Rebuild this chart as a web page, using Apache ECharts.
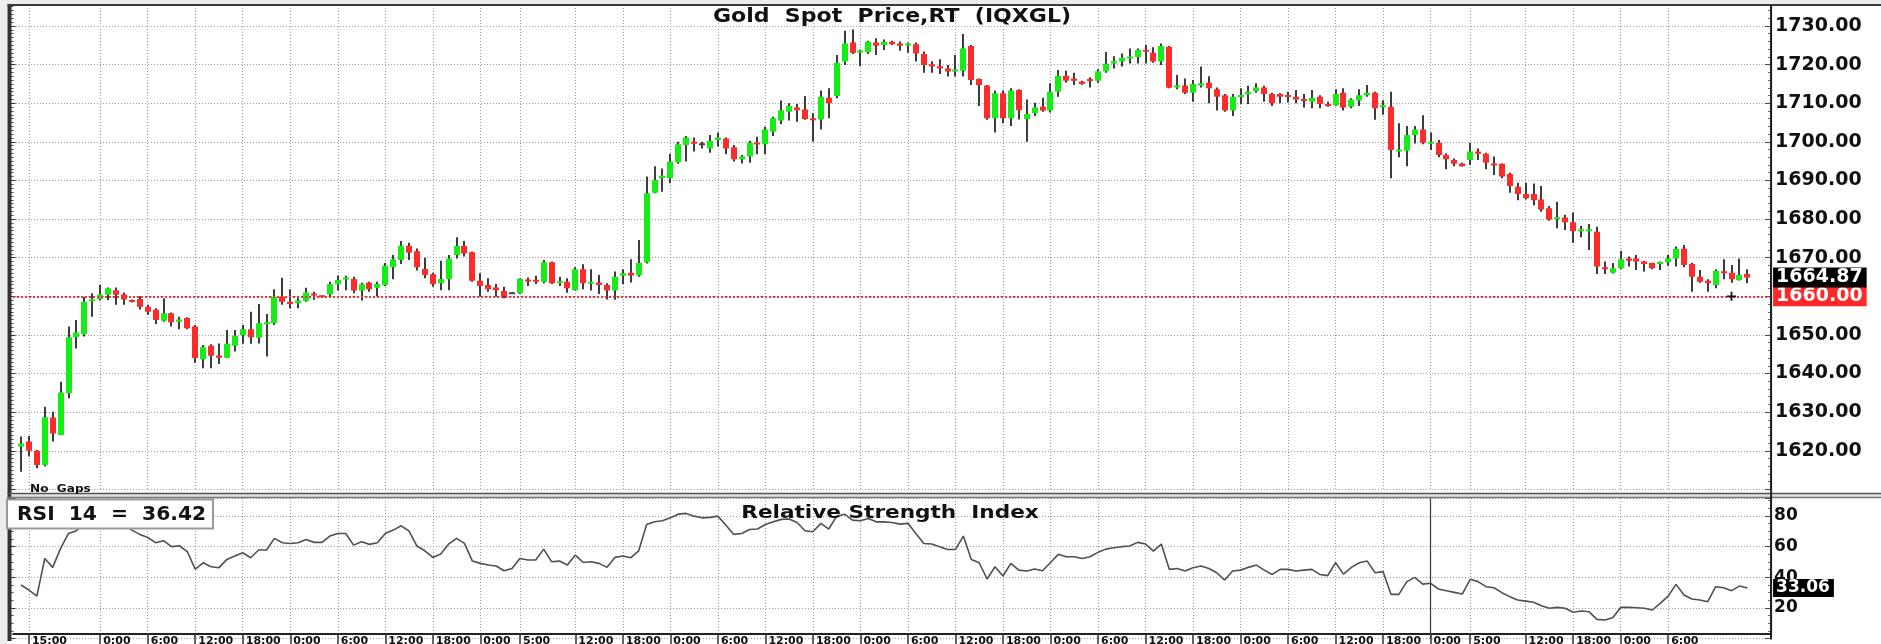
<!DOCTYPE html>
<html><head><meta charset="utf-8">
<script src="https://cdn.jsdelivr.net/npm/echarts@6/dist/echarts.min.js"></script>
<style>html,body{margin:0;padding:0;background:#fff;overflow:hidden}#c{width:1881px;height:644px}</style>
</head><body><div id="c"></div>
<script>
// ---- data (hourly candles, index 0..218) ----
const opens = [1621.1,1622.4,1620.0,1616.3,1628.6,1624.1,1634.9,1649.4,1650.2,1658.7,1659.3,1660.4,1661.6,1660.5,1659.0,1659.3,1657.3,1656.5,1653.7,1655.6,1653.4,1654.4,1652.2,1643.7,1647.2,1644.7,1644.1,1647.2,1649.9,1651.5,1649.3,1653.0,1653.0,1659.9,1658.6,1658.2,1658.8,1660.7,1660.1,1660.5,1663.1,1664.5,1664.5,1661.5,1663.5,1662.2,1662.9,1667.5,1669.4,1673.1,1671.7,1667.1,1665.7,1663.4,1664.4,1670.7,1673.0,1671.4,1664.0,1662.9,1662.3,1661.4,1660.8,1660.8,1664.3,1664.2,1663.8,1668.8,1663.5,1663.8,1661.6,1667.0,1663.4,1663.6,1662.9,1661.5,1665.3,1666.1,1665.4,1668.8,1686.8,1690.6,1690.6,1694.7,1699.2,1700.0,1699.4,1698.3,1700.5,1700.9,1698.6,1695.5,1696.2,1699.8,1699.4,1702.6,1705.5,1707.8,1708.9,1708.4,1705.9,1705.8,1711.4,1711.9,1720.8,1725.7,1723.3,1723.2,1725.7,1725.1,1725.9,1725.5,1725.1,1725.3,1722.75,1720.1,1719.6,1719.0,1718.4,1718.4,1724.8,1716.3,1714.6,1706.1,1712.6,1706.1,1713.4,1705.9,1707.4,1709.1,1708.1,1713.0,1717.1,1716.4,1715.6,1716.3,1715.8,1718.3,1720.3,1720.8,1721.7,1722.0,1723.8,1723.1,1720.8,1724.6,1714.1,1714.6,1712.7,1714.6,1715.3,1713.6,1712.1,1708.1,1711.7,1712.3,1713.2,1714.1,1712.4,1712.4,1712.0,1711.7,1711.0,1710.4,1711.7,1709.8,1709.5,1712.7,1709.1,1710.7,1712.1,1712.7,1709.1,1709.1,1697.6,1697.7,1701.8,1703.2,1699.6,1699.8,1696.6,1695.3,1694.4,1695.3,1697.5,1696.9,1694.3,1694.3,1691.7,1688.4,1686.5,1686.5,1685.1,1682.8,1680.0,1680.4,1679.2,1677.0,1677.0,1676.7,1667.5,1666.1,1667.3,1669.8,1669.8,1669.0,1668.6,1668.4,1668.8,1669.8,1672.3,1668.4,1665.1,1664.0,1662.9,1666.4,1666.1,1664.2,1665.8];
const closes = [1621.9,1620.0,1616.3,1628.7,1624.5,1635.1,1649.4,1650.6,1658.6,1659.2,1660.5,1662.1,1660.4,1659.2,1658.6,1657.3,1656.0,1653.9,1655.6,1653.3,1654.0,1651.7,1644.0,1646.8,1644.6,1644.1,1647.7,1649.8,1651.5,1649.4,1653.0,1653.1,1659.9,1658.6,1658.0,1658.9,1661.0,1660.2,1660.0,1663.2,1664.2,1664.7,1661.5,1663.1,1661.8,1663.2,1667.9,1669.6,1673.1,1671.3,1667.5,1665.5,1663.1,1664.5,1669.8,1673.0,1671.1,1664.0,1662.7,1661.8,1661.6,1660.1,1660.8,1664.5,1663.9,1663.8,1668.8,1663.4,1663.8,1662.1,1667.0,1663.4,1663.6,1662.9,1661.5,1665.1,1666.0,1665.4,1668.6,1686.7,1690.1,1691.2,1694.9,1699.4,1701.1,1699.6,1699.4,1700.3,1701.1,1698.3,1695.5,1696.2,1699.8,1699.4,1703.2,1706.1,1708.2,1709.3,1708.2,1705.9,1705.8,1711.7,1710.0,1720.5,1725.5,1723.1,1723.5,1725.9,1724.9,1725.9,1725.3,1724.9,1725.3,1722.9,1719.9,1719.5,1719.0,1718.2,1718.6,1724.2,1716.0,1714.7,1706.1,1712.6,1706.1,1713.3,1708.2,1707.2,1708.9,1708.1,1713.0,1717.1,1715.8,1715.8,1715.0,1715.8,1718.3,1720.2,1720.9,1721.8,1722.0,1723.8,1723.4,1720.8,1724.8,1714.0,1714.6,1712.7,1715.0,1715.2,1713.9,1711.7,1708.1,1711.7,1712.1,1713.0,1714.1,1712.4,1710.0,1711.7,1711.7,1711.0,1710.7,1711.4,1709.8,1709.3,1712.4,1708.9,1711.0,1712.1,1712.7,1708.7,1709.3,1697.9,1697.9,1701.8,1703.2,1699.8,1699.9,1696.6,1695.5,1694.3,1693.7,1697.5,1696.9,1694.6,1694.0,1691.0,1688.6,1686.5,1685.4,1684.9,1682.5,1679.8,1680.4,1679.2,1676.9,1677.2,1677.2,1667.7,1667.0,1667.3,1669.6,1669.2,1669.0,1668.4,1667.3,1668.8,1669.8,1672.3,1668.1,1665.1,1663.8,1663.4,1666.6,1666.1,1664.4,1665.5,1664.87];
const highs = [1623.7,1623.8,1620.2,1631.4,1630.1,1637.9,1652.2,1653.9,1659.9,1660.8,1662.9,1662.3,1662.3,1661.0,1659.2,1660.0,1657.8,1656.9,1659.5,1655.8,1654.7,1654.6,1652.6,1647.4,1647.6,1647.8,1651.3,1651.3,1652.6,1656.0,1658.0,1655.4,1661.8,1664.8,1661.8,1659.9,1662.2,1661.2,1660.2,1663.8,1665.4,1665.3,1665.1,1663.5,1663.8,1663.8,1668.6,1670.7,1674.3,1673.9,1672.4,1670.0,1666.1,1669.2,1670.7,1675.3,1674.3,1671.6,1666.0,1664.7,1663.2,1662.5,1661.0,1664.7,1664.9,1665.3,1669.4,1669.0,1665.1,1664.7,1667.5,1668.3,1667.0,1665.5,1663.4,1666.4,1667.0,1669.6,1674.6,1691.0,1693.7,1693.1,1696.9,1700.0,1701.5,1701.1,1700.0,1701.8,1702.4,1701.1,1699.2,1696.6,1700.3,1701.3,1703.9,1706.5,1710.7,1710.0,1709.8,1711.9,1707.4,1713.3,1713.9,1722.5,1728.8,1729.1,1723.9,1726.2,1726.8,1726.5,1726.2,1726.0,1725.7,1725.7,1723.4,1720.9,1721.4,1719.9,1722.5,1727.9,1725.1,1716.4,1714.7,1713.3,1713.3,1713.9,1713.6,1711.0,1710.1,1711.4,1715.2,1718.6,1718.4,1717.9,1715.8,1716.7,1718.8,1723.3,1722.2,1722.9,1724.2,1724.2,1725.1,1724.5,1725.5,1724.8,1717.3,1716.4,1716.0,1719.5,1717.0,1714.1,1712.4,1712.4,1713.9,1714.5,1715.2,1714.5,1712.7,1712.6,1713.0,1713.4,1712.4,1713.4,1712.1,1710.4,1713.6,1713.9,1711.3,1713.6,1714.7,1713.0,1710.8,1713.0,1704.8,1704.1,1704.1,1706.9,1702.4,1700.5,1697.0,1695.7,1694.6,1699.8,1698.3,1697.2,1696.2,1694.4,1692.0,1689.4,1689.4,1689.2,1688.6,1683.4,1684.5,1681.1,1681.7,1678.2,1678.7,1678.0,1669.0,1668.6,1671.8,1670.3,1670.7,1669.2,1668.7,1669.0,1670.7,1672.9,1673.3,1668.7,1666.8,1664.4,1667.0,1669.6,1668.1,1669.8,1667.0];
const lows = [1614.6,1618.5,1615.5,1615.9,1622.4,1624.0,1633.6,1646.5,1649.6,1654.7,1658.9,1659.0,1657.8,1657.8,1658.4,1656.6,1655.2,1652.8,1653.4,1652.2,1651.5,1651.5,1642.8,1641.4,1641.4,1642.5,1644.0,1645.7,1647.7,1647.7,1647.8,1644.4,1652.6,1657.8,1656.9,1656.9,1658.6,1659.1,1659.9,1659.9,1661.5,1661.6,1660.8,1658.9,1661.2,1660.1,1662.7,1664.4,1668.4,1669.4,1666.7,1664.7,1662.5,1661.6,1661.6,1669.8,1670.3,1663.8,1659.9,1661.2,1659.9,1659.5,1660.6,1660.6,1662.7,1663.2,1663.4,1663.2,1662.7,1660.9,1661.5,1661.8,1661.5,1660.6,1659.2,1659.1,1663.2,1663.6,1665.1,1668.5,1686.7,1687.1,1689.3,1694.3,1694.9,1697.5,1698.3,1697.2,1698.8,1696.8,1694.9,1694.4,1694.6,1696.8,1696.8,1701.5,1704.6,1705.5,1705.2,1705.7,1700.0,1703.2,1706.1,1711.3,1719.9,1722.75,1719.6,1722.75,1722.5,1723.8,1725.1,1723.6,1723.1,1720.8,1717.9,1717.9,1717.6,1716.9,1716.9,1716.9,1714.7,1709.3,1705.7,1702.4,1704.8,1704.1,1705.8,1700.0,1706.7,1707.8,1707.6,1711.7,1715.3,1714.7,1714.8,1714.1,1715.3,1717.9,1719.0,1719.5,1720.3,1720.3,1720.3,1720.5,1719.9,1713.9,1713.6,1712.4,1710.4,1714.1,1710.0,1708.1,1707.8,1706.7,1709.8,1709.8,1712.7,1710.4,1709.3,1710.0,1710.2,1710.0,1708.9,1708.7,1708.7,1709.1,1709.3,1708.1,1708.7,1709.3,1711.7,1705.7,1707.0,1690.6,1696.0,1693.7,1699.6,1699.4,1697.9,1696.0,1692.9,1693.7,1693.6,1694.0,1695.3,1692.9,1691.4,1690.6,1686.8,1684.9,1685.1,1683.6,1681.9,1679.6,1677.6,1677.2,1673.9,1675.3,1672.0,1665.8,1665.8,1665.9,1667.0,1667.7,1666.8,1666.4,1667.0,1666.8,1667.9,1667.7,1667.5,1661.2,1663.5,1661.2,1662.1,1664.4,1663.5,1664.1,1663.4];
const rsi14 = [35.0,31.7,27.8,52.3,46.5,58.9,68.6,70.4,76,79,81,82,79,75,70.8,68.0,66.0,62.6,63.9,60.0,60.6,56.7,45.4,49.5,46.9,46.3,51.7,53.9,56.0,52.8,57.8,57.8,65.4,62.6,62.1,62.6,64.7,62.8,62.8,66.9,68.6,68.6,61.0,63.2,61.5,62.6,68.6,70.8,73.6,70.2,60.4,57.3,53.0,55.2,61.7,65.4,62.1,50.6,49.1,48.0,47.4,44.3,45.8,52.3,51.3,51.3,58.4,50.2,50.6,48.0,54.5,49.7,50.2,49.1,46.5,53.0,53.9,52.8,57.3,74.5,76.2,76.9,78.8,81.2,81.7,79.9,78.8,79.1,79.9,74.1,68.0,68.6,71.2,71.5,74.5,76.2,77.8,78.0,75.8,70.4,69.7,75.2,71.5,79.9,81.2,77.3,76.9,78.4,76.2,76.2,75.8,74.7,75.2,68.6,62.1,61.7,60.0,58.2,58.2,66.9,51.7,49.5,38.9,46.9,40.9,49.1,44.7,44.1,45.4,44.3,49.7,55.0,53.4,53.4,52.3,53.4,56.3,58.4,59.3,60.0,60.4,62.8,61.7,57.1,61.7,45.2,45.8,44.1,46.3,47.4,45.8,43.0,38.2,44.1,44.7,46.5,48.0,44.7,41.9,45.2,45.2,44.1,44.7,45.2,41.9,41.1,49.5,42.1,46.5,49.5,50.6,43.0,43.7,28.9,28.9,37.2,40.0,35.6,36.1,32.4,31.3,30.2,29.1,38.7,37.2,33.9,33.2,30.0,27.4,25.2,24.5,23.7,21.5,19.8,20.4,19.8,17.2,18.0,17.6,12.6,12.2,13.7,20.4,20.4,20.2,19.8,18.7,23.0,27.8,35.4,28.5,25.9,25.2,24.1,33.9,33.2,31.3,34.3,33.1];
const tickLabels = [[1,'15:00'],[10,'0:00'],[16,'6:00'],[22,'12:00'],[28,'18:00'],[34,'0:00'],[40,'6:00'],[46,'12:00'],[52,'18:00'],[58,'0:00'],[63,'5:00'],[70,'12:00'],[76,'18:00'],[82,'0:00'],[88,'6:00'],[94,'12:00'],[100,'18:00'],[106,'0:00'],[112,'6:00'],[118,'12:00'],[124,'18:00'],[130,'0:00'],[136,'6:00'],[142,'12:00'],[148,'18:00'],[154,'0:00'],[160,'6:00'],[166,'12:00'],[172,'18:00'],[178,'0:00'],[183,'5:00'],[190,'12:00'],[196,'18:00'],[202,'0:00'],[208,'6:00']];
const priceTicks = [1620,1630,1640,1650,1660,1670,1680,1690,1700,1710,1720,1730];
const rsiTicks = [20,40,60,80];
const lastPrice = 1664.87;
const refLevel = 1660.00;
const rsiLast = 33.06;
const rsiHeader = 36.42;
const cursorCandle = 178;
const markCandle = 216;

// ---- build ----
const LEAD = 1, TRAIL = 3;
const nCat = LEAD + opens.length + TRAIL;
const categories = Array.from({length: nCat}, (_, k) => String(k));
const labelMap = {};
tickLabels.forEach(([i, t]) => { labelMap[i + LEAD] = t; });
const isTick = (idx) => labelMap[idx] !== undefined;
const candleData = opens.map((o, i) => [i + LEAD, o, closes[i], lows[i], highs[i]]);
const rsiData = rsi14.map((v, i) => [i + LEAD, v]);

const FONT = '"DejaVu Sans", "Liberation Sans", sans-serif';
const dotted = {color: '#9a9a9a', width: 1, type: [1, 2]};
const GL = 13.1, GW = 1758;

function renderCandle(params, api) {
  const cat = api.value(0);
  const o = api.value(1), c = api.value(2), l = api.value(3), h = api.value(4);
  const pO = api.coord([cat, o]), pC = api.coord([cat, c]);
  const pH = api.coord([cat, h]), pL = api.coord([cat, l]);
  const x = Math.round(pO[0]);
  const bw = 6;
  let top = Math.min(pO[1], pC[1]), bot = Math.max(pO[1], pC[1]);
  if (bot - top < 2) { const m = (top + bot) / 2; top = m - 1; bot = m + 1; }
  const fill = c > o ? '#14ee14' : (c < o ? '#ff2a2a' : '#444444');
  return {type: 'group', children: [
    {type: 'line', shape: {x1: x, y1: pH[1], x2: x, y2: pL[1]}, style: {stroke: '#3c3c3c', lineWidth: 2}},
    {type: 'rect', shape: {x: x - bw / 2, y: top, width: bw, height: bot - top}, style: {fill: fill}}
  ]};
}

const boxLabel = (bg, txt, size) => ({
  show: true, position: 'end', distance: 2, formatter: txt,
  backgroundColor: bg, color: '#ffffff', fontFamily: FONT, fontWeight: 'bold',
  fontSize: size, lineHeight: size, padding: [1, 4, 0, 3]
});
const hiddenLine = {color: 'rgba(0,0,0,0)', width: 0.01, type: 'solid'};

const chart = echarts.init(document.getElementById('c'), null, {renderer: 'canvas'});
chart.setOption({
  animation: false,
  backgroundColor: '#ffffff',
  textStyle: {fontFamily: FONT},
  grid: [
    {left: GL, top: 5, width: GW, height: 484.4, outerBoundsMode: 'none', containLabel: false},
    {left: GL, top: 498, width: GW, height: 140.67, outerBoundsMode: 'none', containLabel: false}
  ],
  xAxis: [
    {type: 'category', gridIndex: 0, data: categories, boundaryGap: false,
     axisLine: {show: false}, axisTick: {show: false}, axisLabel: {show: false},
     splitLine: {show: true, interval: (i) => isTick(i), lineStyle: dotted}},
    {type: 'category', gridIndex: 1, data: categories, boundaryGap: false, offset: -4.67,
     axisLine: {show: true, lineStyle: {color: '#222', width: 2}},
     axisTick: {show: true, interval: (i) => isTick(i), length: 10, lineStyle: {color: '#333', width: 1.5}},
     axisLabel: {show: true, interval: (i) => isTick(i), formatter: (v, i) => labelMap[i] || '',
                 align: 'left', margin: 2, padding: [0, 0, 0, 3], color: '#111',
                 fontFamily: FONT, fontWeight: 'bold', fontSize: 11},
     splitLine: {show: true, interval: (i) => isTick(i), lineStyle: dotted}}
  ],
  yAxis: [
    {type: 'value', gridIndex: 0, position: 'right', min: 1610, max: 1735.44, interval: 10,
     axisLine: {show: true, lineStyle: {color: '#222', width: 2}},
     axisTick: {show: true, inside: true, length: 6, lineStyle: {color: '#444'}},
     minorTick: {show: true, splitNumber: 5, length: 3, lineStyle: {color: '#666'}},
     axisLabel: {show: true, showMinLabel: false, showMaxLabel: false, margin: 4,
                 formatter: (v) => priceTicks.includes(Math.round(v)) ? v.toFixed(2) : '',
                 color: '#111', fontFamily: FONT, fontWeight: 'bold', fontSize: 19},
     splitLine: {show: true, lineStyle: dotted}},
    {type: 'value', gridIndex: 0, position: 'left', offset: 3.5, min: 1610, max: 1735.44, interval: 10,
     axisLine: {show: false}, axisLabel: {show: false}, splitLine: {show: false},
     axisTick: {show: true, inside: true, length: 6, lineStyle: {color: '#333'}},
     minorTick: {show: true, splitNumber: 10, length: 4, lineStyle: {color: '#555'}}},
    {type: 'value', gridIndex: 1, position: 'right', min: 0, max: 91.74, interval: 20,
     axisLine: {show: true, lineStyle: {color: '#222', width: 2}},
     axisTick: {show: true, inside: true, length: 6, lineStyle: {color: '#444'}},
     minorTick: {show: true, splitNumber: 4, length: 3, lineStyle: {color: '#666'}},
     axisLabel: {show: true, showMinLabel: false, showMaxLabel: false, margin: 3,
                 formatter: (v) => rsiTicks.includes(Math.round(v)) ? String(Math.round(v)) : '',
                 color: '#111', fontFamily: FONT, fontWeight: 'bold', fontSize: 17},
     splitLine: {show: true, lineStyle: dotted}},
    {type: 'value', gridIndex: 1, position: 'left', offset: 3.5, min: 0, max: 91.74, interval: 20,
     axisLine: {show: false}, axisLabel: {show: false}, splitLine: {show: false},
     axisTick: {show: true, inside: true, length: 6, lineStyle: {color: '#333'}},
     minorTick: {show: true, splitNumber: 4, length: 4, lineStyle: {color: '#555'}}}
  ],
  series: [
    {type: 'custom', name: 'Gold', xAxisIndex: 0, yAxisIndex: 0, data: candleData,
     encode: {x: 0, y: [1, 2, 3, 4]}, renderItem: renderCandle, clip: true, z: 3,
     markLine: {silent: true, symbol: ['none', 'none'], animation: false,
       data: [
         {yAxis: refLevel, lineStyle: {color: '#e0343a', width: 2, type: [2, 2]}, label: boxLabel('#ff2727', refLevel.toFixed(2), 19)},
         {yAxis: lastPrice, lineStyle: hiddenLine, label: boxLabel('#000000', lastPrice.toFixed(2), 19)}
       ]},
     markPoint: {silent: true, animation: false, symbol: 'path://M4,0H6V4H10V6H6V10H4V6H0V4H4Z', symbolSize: 9,
       itemStyle: {color: '#111'}, label: {show: false},
       data: [{coord: [markCandle + LEAD, refLevel]}]}},
    {type: 'line', name: 'RSI', xAxisIndex: 1, yAxisIndex: 2, data: rsiData, symbol: 'none',
     lineStyle: {color: '#505050', width: 1.6}, z: 3,
     markLine: {silent: true, symbol: ['none', 'none'], animation: false,
       data: [
         {xAxis: cursorCandle + LEAD, lineStyle: {color: '#3a3a3a', width: 1.2, type: 'solid'}, label: {show: false}},
         {yAxis: rsiLast, lineStyle: hiddenLine, label: boxLabel('#000000', rsiLast.toFixed(2), 17)}
       ]}}
  ],
  graphic: [
    {type: 'rect', silent: true, z: 40, shape: {x: 0, y: 0, width: 1881, height: 4}, style: {fill: '#ececec'}},
    {type: 'rect', silent: true, z: 40, shape: {x: 0, y: 0, width: 7.5, height: 644}, style: {fill: '#ececec'}},
    {type: 'rect', silent: true, z: 41, shape: {x: 7.5, y: 4, width: 4, height: 637}, style: {fill: '#333333'}},
    {type: 'line', silent: true, z: 41, shape: {x1: 7.5, y1: 5, x2: 1881, y2: 5}, style: {stroke: '#3a3a3a', lineWidth: 2}},
    {type: 'rect', silent: true, z: 41, shape: {x: 11.5, y: 493, width: 1870, height: 5}, style: {fill: '#e2e2e2'}},
    {type: 'line', silent: true, z: 42, shape: {x1: 7.5, y1: 493.5, x2: 1881, y2: 493.5}, style: {stroke: '#555', lineWidth: 1.5}},
    {type: 'line', silent: true, z: 42, shape: {x1: 7.5, y1: 497.5, x2: 1881, y2: 497.5}, style: {stroke: '#777', lineWidth: 1.5}},
    {type: 'line', silent: true, z: 42, shape: {x1: 1771.1, y1: 5, x2: 1771.1, y2: 634}, style: {stroke: '#222', lineWidth: 2}},
    {type: 'text', silent: true, z: 50, x: 892, y: 17, scaleX: 1.16,
     style: {text: 'Gold  Spot  Price,RT  (IQXGL)', font: 'bold 19px ' + FONT, fill: '#111', align: 'center', verticalAlign: 'middle', textAlign: 'center', textVerticalAlign: 'middle'}},
    {type: 'text', silent: true, z: 50, x: 890, y: 513, scaleX: 1.2,
     style: {text: 'Relative Strength  Index', font: 'bold 18px ' + FONT, fill: '#111', align: 'center', verticalAlign: 'middle', textAlign: 'center', textVerticalAlign: 'middle'}},
    {type: 'rect', silent: true, z: 55, shape: {x: 7, y: 499.5, width: 206, height: 29}, style: {fill: '#ffffff', stroke: '#9a9a9a', lineWidth: 2}},
    {type: 'text', silent: true, z: 56, x: 17, y: 515, scaleX: 1.065,
     style: {text: 'RSI  14  =  ' + rsiHeader.toFixed(2), font: 'bold 19px ' + FONT, fill: '#111', align: 'left', verticalAlign: 'middle', textAlign: 'left', textVerticalAlign: 'middle'}},
    {type: 'text', silent: true, z: 50, x: 30, y: 489, scaleX: 1.1,
     style: {text: 'No  Gaps', font: 'bold 11px ' + FONT, fill: '#111', align: 'left', verticalAlign: 'middle', textAlign: 'left', textVerticalAlign: 'middle'}}
  ]
});
</script>
</body></html>
